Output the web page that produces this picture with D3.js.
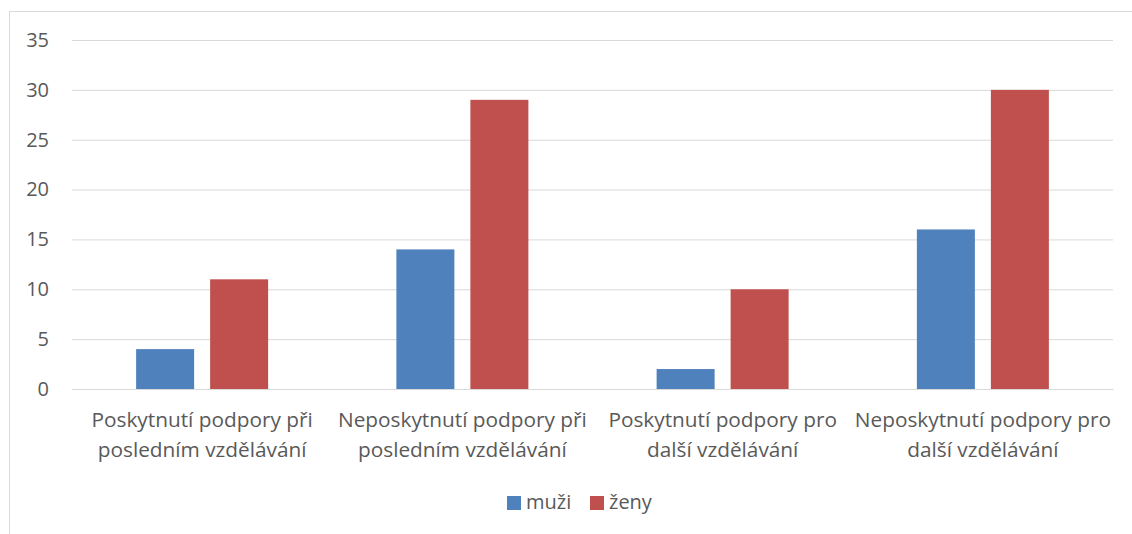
<!DOCTYPE html>
<html><head><meta charset="utf-8">
<script src="https://cdn.jsdelivr.net/npm/d3@7"></script>
<style>html,body{margin:0;padding:0;background:#fff;overflow:hidden}</style>
</head><body><svg id="c" width="1132" height="534"></svg>
<script>
const categories = [
  ["Poskytnutí podpory při", "posledním vzdělávání"],
  ["Neposkytnutí podpory při", "posledním vzdělávání"],
  ["Poskytnutí podpory pro", "další vzdělávání"],
  ["Neposkytnutí podpory pro", "další vzdělávání"]
];
const seriesNames = ["muži", "ženy"];
const muzi = [4, 14, 2, 16];
const zeny = [11, 29, 10, 30];
const yTicks = [0, 5, 10, 15, 20, 25, 30, 35];
const colors = ["#4f81bd", "#c0504d"];

(function () {
const svg = d3.select("#c");
const font = "'Open Sans', sans-serif";
const txt = "#595959";
const fs = 20;
svg.append("rect").attr("x", 9.5).attr("y", 11.5).attr("width", 1140).attr("height", 540)
  .attr("fill", "#fff").attr("stroke", "#d9d9d9").attr("stroke-width", 1);

const pl = 72, pr = 1113, pt = 40, pb = 389;
const idx = categories.map((d, i) => i);
const x0 = d3.scaleBand().domain(idx).range([pl, pr]);
const x1 = d3.scaleBand().domain(seriesNames).range([0, 132]).paddingInner(2 - 132 / 74);
const y = d3.scaleLinear().domain([0, 35]).range([pb, pt]);

const yAxis = d3.axisLeft(y).tickValues(yTicks).tickSize(-(pr - pl)).tickPadding(23);
const gy = svg.append("g").attr("transform", `translate(${pl},0)`).call(yAxis);
gy.select(".domain").remove();
gy.selectAll(".tick line").attr("stroke", "#d9d9d9").attr("stroke-width", 1);
gy.selectAll(".tick text").attr("fill", txt).attr("font-family", font).attr("font-size", fs);

const data = [muzi, zeny];
seriesNames.forEach((s, si) => {
  svg.append("g").selectAll("rect").data(data[si]).join("rect")
    .attr("x", (d, i) => x0(i) + x0.bandwidth() / 2 - 66 + x1(s))
    .attr("width", x1.bandwidth())
    .attr("y", d => y(d))
    .attr("height", d => y(0) - y(d))
    .attr("fill", colors[si]);
});

const xAxis = d3.axisBottom(x0).tickSize(0).tickFormat(() => "");
const gx = svg.append("g").attr("transform", `translate(0,${pb})`).call(xAxis);
gx.select(".domain").attr("stroke", "#d9d9d9");
gx.selectAll(".tick").each(function(i) {
  const t = d3.select(this).append("text").attr("fill", txt).attr("font-family", font)
    .attr("font-size", 20.8).attr("text-anchor", "middle");
  categories[i].forEach((line, k) => {
    t.append("tspan").attr("x", 0).attr("y", 38 + k * 30).text(line);
  });
});

const leg = svg.append("g");
const legX = [507, 590];
seriesNames.forEach((s, si) => {
  leg.append("rect").attr("x", legX[si]).attr("y", 496).attr("width", 14).attr("height", 14).attr("fill", colors[si]);
  leg.append("text").attr("x", legX[si] + 19).attr("y", 509).attr("fill", txt)
    .attr("font-family", font).attr("font-size", fs).text(s);
});
})();
</script></body></html>
